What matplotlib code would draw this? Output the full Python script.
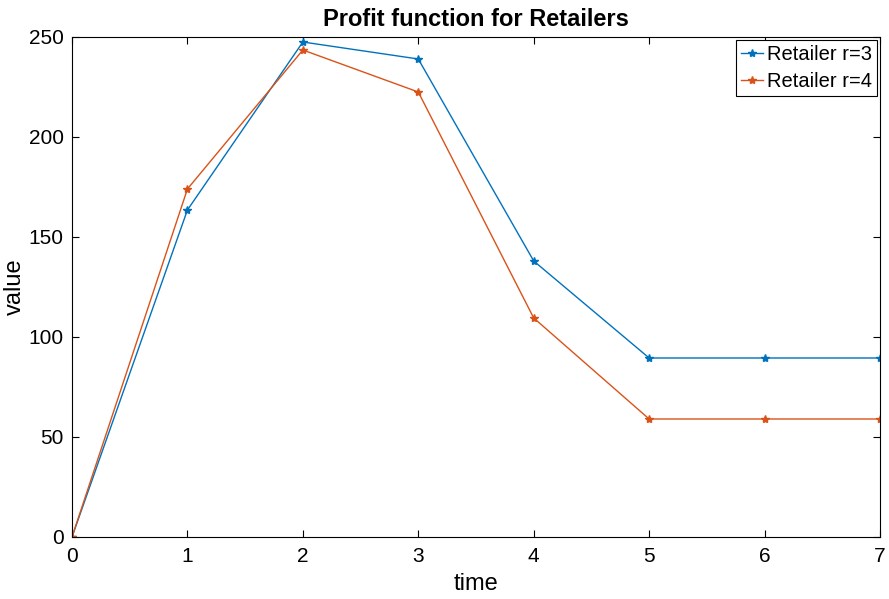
import matplotlib
matplotlib.use("Agg")
import matplotlib.pyplot as plt

time = [0, 1, 2, 3, 4, 5, 6, 7]
retailer_r3 = [0, 163.5, 247.5, 239, 138, 89.5, 89.5, 89.5]
retailer_r4 = [0, 174, 243.5, 222.5, 109.5, 59, 59, 59]
xticks = [0, 1, 2, 3, 4, 5, 6, 7]
yticks = [0, 50, 100, 150, 200, 250]

plt.rcParams['font.family'] = ['Liberation Sans', 'DejaVu Sans']

fig = plt.figure(figsize=(8.89, 5.99), dpi=100)
W, H = 889, 599
ax = fig.add_axes([72 / W, (H - 537) / H, (880 - 72) / W, (537 - 37) / H])

ax.plot(time, retailer_r3, color='#0072BD', marker='*', markersize=6, linewidth=1.0, label='Retailer r=3')
ax.plot(time, retailer_r4, color='#D95319', marker='*', markersize=6, linewidth=1.0, label='Retailer r=4')

ax.set_xlim(0, 7)
ax.set_ylim(0, 250)
ax.set_xticks(xticks)
ax.set_yticks(yticks)
ax.tick_params(direction='in', top=True, right=True, labelsize=15, length=5, width=0.8)
ax.tick_params(axis='x', pad=7)
ax.tick_params(axis='y', pad=6)
for s in ax.spines.values():
    s.set_linewidth(0.8)

ax.set_xlabel('time', fontsize=17, labelpad=5)
ax.set_ylabel('value', fontsize=17, labelpad=2)
ax.set_title('Profit function for Retailers', fontsize=17, fontweight='bold', pad=8)

leg = ax.legend(loc='upper right', fontsize=14.5, fancybox=False, edgecolor='black',
                framealpha=1, borderpad=0.25, labelspacing=0.4, handlelength=1.1,
                handletextpad=0.2, borderaxespad=0.15)
leg.get_frame().set_linewidth(0.8)

fig.savefig('out.png', dpi=100)
